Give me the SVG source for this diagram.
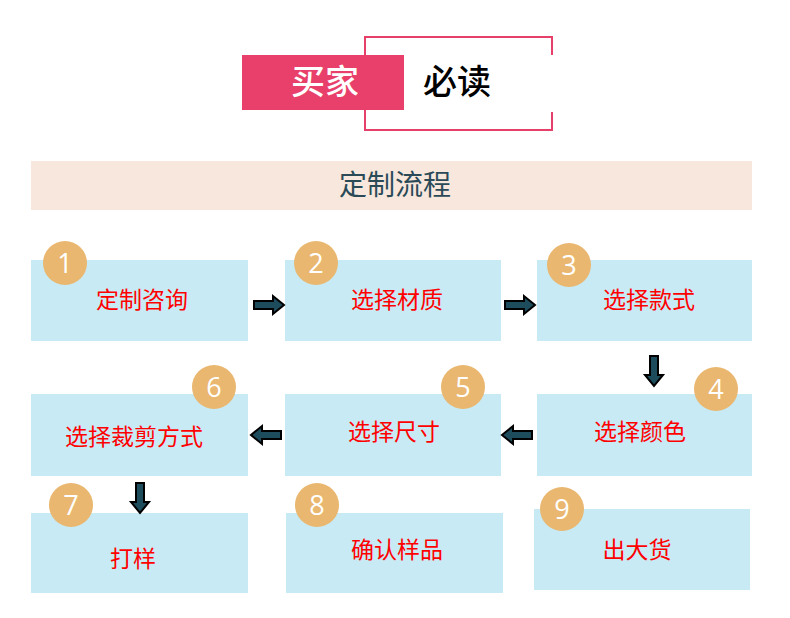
<svg xmlns="http://www.w3.org/2000/svg" xmlns:xlink="http://www.w3.org/1999/xlink" width="790" height="618" viewBox="0 0 790 618">
<style>
.box{fill:#c8eaf5}
.num{fill:#e9b76f}
.numt{fill:#fff;font-family:"Open Sans","Noto Sans",sans-serif;font-size:27px;text-anchor:middle}
.lbl{fill:#ff0000;font-family:"Noto Sans CJK SC",sans-serif;font-size:23px;font-weight:normal;text-anchor:middle}
.arr{fill:#1d4c5c;stroke:#000;stroke-width:2;stroke-linejoin:miter}
</style>
<defs>
<path id="ar" d="M0,-4 H19 V-9 L30,0 L19,9 V4 H0 Z"/>
</defs>
<rect width="790" height="618" fill="#fff"/>
<g id="header">
<path d="M365,55 V37 H552 V55 M552,112 V130 H365 V110" fill="none" stroke="#e6406a" stroke-width="2"/>
<rect x="242" y="55" width="162" height="55" fill="#e8406a"/>
<text x="325" y="94" fill="#fff" font-family="Noto Sans CJK SC,sans-serif" font-size="34" font-weight="500" text-anchor="middle">买家</text>
<text x="457" y="94" fill="#000" font-family="Noto Sans CJK SC,sans-serif" font-size="34" font-weight="500" text-anchor="middle">必读</text>
</g>
<g id="banner">
<rect x="31" y="161" width="721" height="49" fill="#f7e7dc"/>
<text x="395" y="195" fill="#2a4a58" font-family="Noto Sans CJK SC,sans-serif" font-size="28" text-anchor="middle">定制流程</text>
</g>
<g id="n1"><rect class="box" x="31" y="260" width="217" height="81"/><circle class="num" cx="65" cy="263" r="22"/><text class="numt" x="65" y="273">1</text><text class="lbl" x="142" y="308">定制咨询</text></g>
<g id="n2"><rect class="box" x="285" y="260" width="216" height="81"/><circle class="num" cx="316" cy="263" r="22"/><text class="numt" x="316" y="273">2</text><text class="lbl" x="397" y="308">选择材质</text></g>
<g id="n3"><rect class="box" x="537" y="260" width="215" height="81"/><circle class="num" cx="569" cy="265" r="22"/><text class="numt" x="569" y="275">3</text><text class="lbl" x="649" y="308">选择款式</text></g>
<g id="n4"><rect class="box" x="537" y="394" width="215" height="82"/><circle class="num" cx="716" cy="389" r="22"/><text class="numt" x="716" y="399">4</text><text class="lbl" x="640" y="440">选择颜色</text></g>
<g id="n5"><rect class="box" x="285" y="394" width="216" height="82"/><circle class="num" cx="463" cy="387" r="22"/><text class="numt" x="463" y="397">5</text><text class="lbl" x="394" y="440">选择尺寸</text></g>
<g id="n6"><rect class="box" x="31" y="394" width="217" height="82"/><circle class="num" cx="214" cy="387" r="22"/><text class="numt" x="214" y="397">6</text><text class="lbl" x="134" y="445">选择裁剪方式</text></g>
<g id="n7"><rect class="box" x="31" y="513" width="217" height="80"/><circle class="num" cx="71" cy="505" r="22"/><text class="numt" x="71" y="515">7</text><text class="lbl" x="133" y="567">打样</text></g>
<g id="n8"><rect class="box" x="286" y="513" width="217" height="80"/><circle class="num" cx="317" cy="505" r="22"/><text class="numt" x="317" y="515">8</text><text class="lbl" x="397" y="558">确认样品</text></g>
<g id="n9"><rect class="box" x="534" y="509" width="216" height="81"/><circle class="num" cx="562" cy="509" r="22"/><text class="numt" x="562" y="519">9</text><text class="lbl" x="637" y="558">出大货</text></g>
<g id="connectors">
<use href="#ar" class="arr" transform="translate(254,305)"/>
<use href="#ar" class="arr" transform="translate(505,305)"/>
<use href="#ar" class="arr" transform="translate(654,356) rotate(90)"/>
<use href="#ar" class="arr" transform="translate(532,435) rotate(180)"/>
<use href="#ar" class="arr" transform="translate(281,435) rotate(180)"/>
<use href="#ar" class="arr" transform="translate(140,483) rotate(90)"/>
</g>
</svg>
